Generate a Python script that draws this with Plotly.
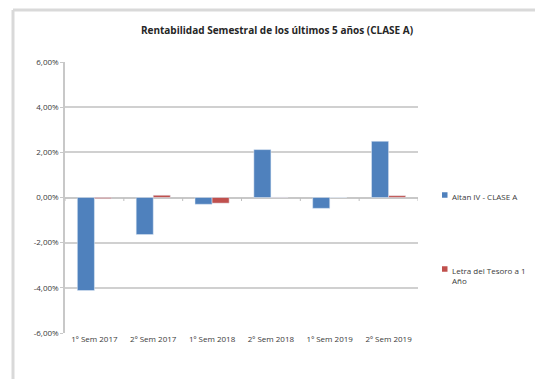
import plotly.graph_objects as go

categories = ["1º Sem 2017", "2º Sem 2017", "1º Sem 2018", "2º Sem 2018", "1º Sem 2019", "2º Sem 2019"]
altan = [-4.12, -1.64, -0.30, 2.12, -0.48, 2.49]
letra = [-0.05, 0.10, -0.25, 0.01, 0.00, 0.08]
y_ticks = [-6, -4, -2, 0, 2, 4, 6]
y_tick_labels = ["-6,00%", "-4,00%", "-2,00%", "0,00%", "2,00%", "4,00%", "6,00%"]
series_names = ["Altan IV - CLASE A", "Letra del Tesoro a 1<br>Año"]

BLUE = "#4F81BD"
RED = "#C0504D"
FONT = "Open Sans"
TXT = "#3a3a3a"

W, H = 535, 379
L, R, T, B = 65, 117, 62, 46
pw, ph = W - L - R, H - T - B

def px(x):
    return (x - L) / pw

def py(y):
    return (H - B - y) / ph

fig = go.Figure()
fig.add_trace(go.Bar(x=categories, y=altan, name=series_names[0], marker_color=BLUE,
                     showlegend=False))
fig.add_trace(go.Bar(x=categories, y=letra, name=series_names[1], marker_color=RED,
                     showlegend=False))

shapes = []
frame = dict(color="#d9d9d9", width=3)
shapes.append(dict(type="line", xref="paper", yref="paper", x0=px(13), x1=px(W + 5),
                   y0=py(10), y1=py(10), line=frame))
shapes.append(dict(type="line", xref="paper", yref="paper", x0=px(13), x1=px(13),
                   y0=py(10), y1=py(H + 5), line=frame))
# category boundary tick marks on the zero line
for i in range(len(categories) + 1):
    shapes.append(dict(type="line", xref="x", yref="paper", x0=i - 0.5, x1=i - 0.5,
                       y0=py(198) - 3 / ph, y1=py(198),
                       line=dict(color="#bfbfbf", width=1)))

# manual legend (Excel style, small square keys)
legend_rows = [(195, BLUE, series_names[0]), (269, RED, series_names[1])]
annotations = []
for yc, col, name in legend_rows:
    shapes.append(dict(type="rect", xref="paper", yref="paper",
                       x0=px(442), x1=px(447.5), y0=py(yc + 2.75), y1=py(yc - 2.75),
                       fillcolor=col, line=dict(width=0)))
    annotations.append(dict(xref="paper", yref="paper", x=px(450), y=py(yc - 6.5),
                            xanchor="left", yanchor="top", align="left", showarrow=False,
                            text=name, font=dict(family=FONT, size=8, color=TXT)))

fig.update_layout(
    width=W, height=H,
    margin=dict(l=L, r=R, t=T, b=B),
    paper_bgcolor="white", plot_bgcolor="white",
    barmode="group", bargap=0.42, bargroupgap=0,
    showlegend=False,
    font=dict(family=FONT, size=8, color=TXT),
    title=dict(text="<b>Rentabilidad Semestral de los últimos 5 años (CLASE A)</b>",
               x=277 / W, xanchor="center", y=1 - 30 / H, yanchor="middle",
               font=dict(family=FONT, size=10, color="#262626")),
    shapes=shapes,
    annotations=annotations,
)
fig.update_xaxes(type="category", showgrid=False, showline=False, ticks="",
                 tickfont=dict(size=8, color=TXT), range=[-0.5, 5.5])
fig.update_yaxes(range=[-6, 6], tickvals=y_ticks, ticktext=y_tick_labels,
                 showgrid=True, gridcolor="#d0d0d0", gridwidth=1.5,
                 zeroline=True, zerolinecolor="#c8c8c8", zerolinewidth=1.5,
                 showline=True, linecolor="#c8c8c8", linewidth=1.5,
                 ticks="outside", ticklen=3, tickcolor="#c8c8c8",
                 tickfont=dict(size=8, color=TXT))

fig.write_html("out.html")
